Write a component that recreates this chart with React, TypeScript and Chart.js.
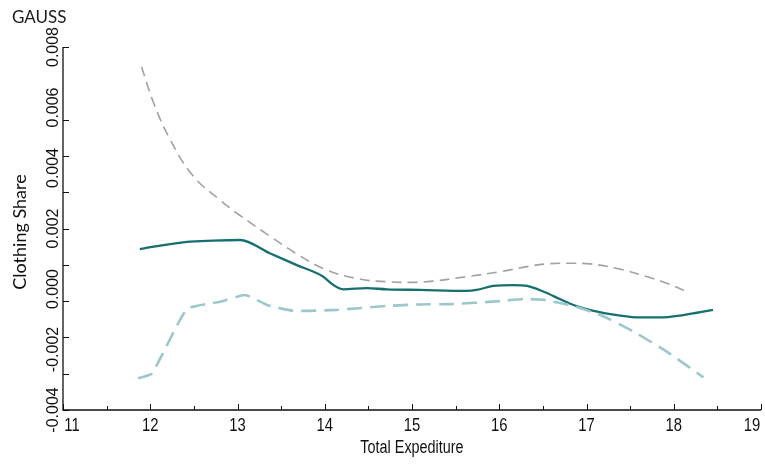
import React, { useEffect, useRef } from "react";
import { Chart, registerables } from "chart.js";

Chart.register(...registerables);

const chartTitle = "GAUSS";
const xTitle = "Total Expediture";
const yTitle = "Clothing Share";

const xTicks = [11, 12, 13, 14, 15, 16, 17, 18, 19];
const xMinorTicks = [11.5, 12.5, 13.5, 14.5, 15.5, 16.5, 17.5, 18.5];
const yTickMarks = [-0.004, -0.0028, -0.0016, -0.0004, 0.0008, 0.002, 0.0032, 0.0044, 0.0056, 0.008];
const yLabelValues = [-0.004, -0.002, 0, 0.002, 0.004, 0.006, 0.008];

const estX = [11.88, 12.42, 12.72, 13.03, 13.37, 13.68, 13.98, 14.1, 14.21, 14.48, 14.71, 15.09, 15.63, 15.74, 15.93, 16.16, 16.32, 16.51, 16.7, 16.85, 17.08, 17.35, 17.61, 17.84, 18.11, 18.45];
const estY = [0.00132, 0.00156, 0.0016, 0.00162, 0.00118, 0.00079, 0.00041, 0.00013, -0.00001, 0.00003, -0.00001, -0.00003, -0.00006, -0.00003, 0.0001, 0.00013, 0.0001, -0.00009, -0.00034, -0.00053, -0.00072, -0.00086, -0.00094, -0.00094, -0.00086, -0.00069];

const upX = [11.9, 12.04, 12.23, 12.49, 12.8, 13.03, 13.37, 13.68, 14.02, 14.4, 14.71, 15.01, 15.24, 15.63, 16.01, 16.32, 16.54, 16.77, 17.04, 17.35, 17.69, 17.92, 18.17];
const upY = [0.00735, 0.00614, 0.00493, 0.00374, 0.00294, 0.00243, 0.00175, 0.00116, 0.00063, 0.00033, 0.00024, 0.00022, 0.00026, 0.00041, 0.00057, 0.00074, 0.00083, 0.00085, 0.00083, 0.00068, 0.00041, 0.00019, -0.00012];

const loX = [11.86, 12.02, 12.42, 12.8, 13.09, 13.34, 13.64, 14.14, 14.71, 15.09, 15.44, 16.01, 16.28, 16.51, 16.85, 17.16, 17.54, 17.92, 18.34];
const loY = [-0.00295, -0.00279, -0.00067, -0.00042, -0.0002, -0.00053, -0.00072, -0.00069, -0.00056, -0.00051, -0.0005, -0.0004, -0.00033, -0.00036, -0.00056, -0.00086, -0.00141, -0.00207, -0.00292];

const pts = (xs: number[], ys: number[]) => xs.map((x, i) => ({ x, y: ys[i] }));

const axisPlugin = {
  id: "gaussAxes",
  afterDraw(chart: any) {
    const ctx = chart.ctx as CanvasRenderingContext2D;
    const xs = chart.scales.x;
    const ys = chart.scales.y;
    const { left, right, top, bottom } = chart.chartArea;
    ctx.save();
    ctx.strokeStyle = "#111";
    ctx.fillStyle = "#111";
    ctx.lineWidth = 1.3;
    ctx.beginPath();
    ctx.moveTo(left, top);
    ctx.lineTo(left, bottom);
    ctx.lineTo(right, bottom);
    ctx.stroke();
    ctx.lineWidth = 1;
    xTicks.forEach((v) => {
      const px = Math.round(xs.getPixelForValue(v)) + 0.5;
      ctx.beginPath();
      ctx.moveTo(px, bottom);
      ctx.lineTo(px, bottom - 6);
      ctx.stroke();
    });
    xMinorTicks.forEach((v) => {
      const px = Math.round(xs.getPixelForValue(v)) + 0.5;
      ctx.beginPath();
      ctx.moveTo(px, bottom);
      ctx.lineTo(px, bottom - 4);
      ctx.stroke();
    });
    yTickMarks.forEach((v) => {
      const py = Math.round(ys.getPixelForValue(v)) + 0.5;
      ctx.beginPath();
      ctx.moveTo(left, py);
      ctx.lineTo(left + 6, py);
      ctx.stroke();
    });
    // x tick labels (condensed)
    ctx.font = '19px "Liberation Sans", Arial, sans-serif';
    ctx.textBaseline = "top";
    ctx.textAlign = "center";
    xTicks.forEach((v, i) => {
      let px = xs.getPixelForValue(v);
      if (i === 0) px += 9;
      if (i === xTicks.length - 1) px -= 9;
      ctx.save();
      ctx.translate(px, bottom + 6);
      ctx.scale(0.78, 1);
      ctx.fillText(String(v), 0, 0);
      ctx.restore();
    });
    // y tick labels, rotated
    ctx.font = '16px "Liberation Sans", Arial, sans-serif';
    ctx.textAlign = "center";
    ctx.textBaseline = "middle";
    yLabelValues.forEach((v) => {
      const py = ys.getPixelForValue(v);
      ctx.save();
      ctx.translate(left - 9, py);
      ctx.rotate(-Math.PI / 2);
      ctx.fillText(v.toFixed(3), 0, 0);
      ctx.restore();
    });
    // x title
    ctx.save();
    ctx.font = '18px "Liberation Sans", Arial, sans-serif';
    ctx.textAlign = "center";
    ctx.textBaseline = "middle";
    ctx.translate(xs.getPixelForValue(15), 448);
    ctx.scale(0.8, 1);
    ctx.fillText(xTitle, 0, 0);
    ctx.restore();
    // y title
    ctx.save();
    ctx.font = '18px Lato, "Open Sans", sans-serif';
    ctx.textAlign = "center";
    ctx.textBaseline = "middle";
    ctx.translate(20, 232);
    ctx.rotate(-Math.PI / 2);
    ctx.fillText(yTitle, 0, 0);
    ctx.restore();
    // chart title
    ctx.font = '17px Lato, "Open Sans", sans-serif';
    ctx.textAlign = "left";
    ctx.textBaseline = "middle";
    ctx.fillStyle = "#1a1a1a";
    ctx.fillText(chartTitle, 12, 18);
    ctx.restore();
  },
};

export default function App() {
  const ref = useRef<HTMLCanvasElement | null>(null);
  useEffect(() => {
    document.body.style.margin = "0";
    const canvas = ref.current;
    if (!canvas) return;
    const chart = new Chart(canvas, {
      type: "line",
      data: {
        datasets: [
          {
            label: "Upper",
            data: pts(upX, upY),
            borderColor: "#a2a2a2",
            borderWidth: 1.6,
            borderDash: [10, 6],
            pointRadius: 0,
            tension: 0.4,
            fill: false,
          },
          {
            label: "Lower",
            data: pts(loX, loY),
            borderColor: "#9cc8cb",
            borderWidth: 2.6,
            borderDash: [15, 8],
            pointRadius: 0,
            tension: 0.15,
            fill: false,
          },
          {
            label: "Estimate",
            data: pts(estX, estY),
            borderColor: "#177070",
            borderWidth: 2.3,
            pointRadius: 0,
            cubicInterpolationMode: "monotone",
            fill: false,
          },
        ],
      },
      options: {
        responsive: false,
        animation: false,
        layout: { padding: { left: 63, top: 47, right: 4, bottom: 54 } },
        plugins: { legend: { display: false }, tooltip: { enabled: false }, title: { display: false } },
        scales: {
          x: { type: "linear", min: 11, max: 19, display: false },
          y: { type: "linear", min: -0.004, max: 0.008, display: false },
        },
      },
      plugins: [axisPlugin],
    } as any);
    return () => chart.destroy();
  }, []);
  return <canvas ref={ref} width={765} height={464} style={{ display: "block" }} />;
}
